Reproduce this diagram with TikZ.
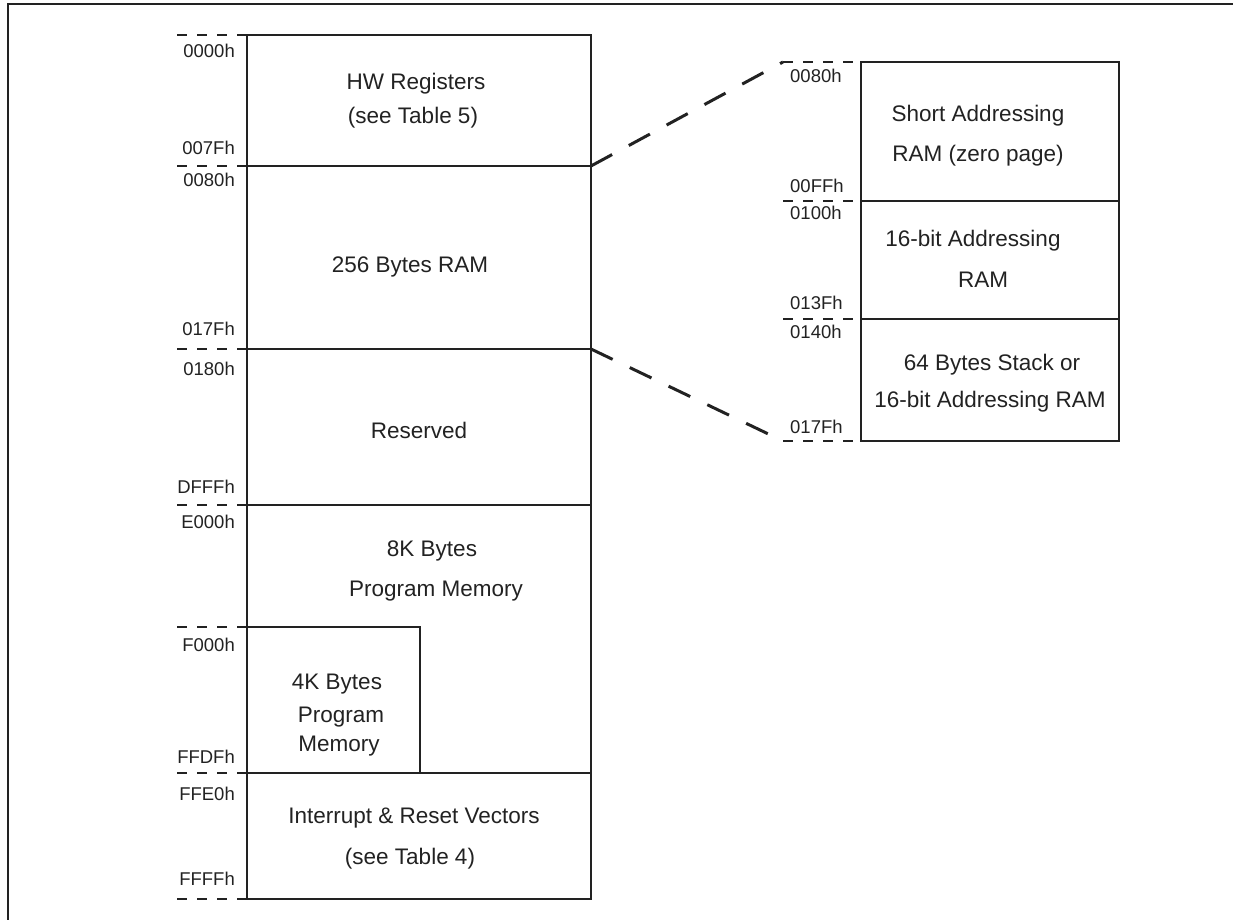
\documentclass[tikz,border=0pt]{standalone}
\usepackage{fontspec}
\setmainfont{Liberation Sans}
\usetikzlibrary{positioning}
\definecolor{lineGray}{HTML}{222222}
\newcommand{\memregion}[4]{
    \node (#1) [draw=lineGray, line width=2.5pt, outer sep=0pt, minimum width=#2, minimum height=#3, #4] {};
}

\begin{document}
\begin{tikzpicture}[x=1pt, y=-1pt, inner sep=0.0pt,
    addr/.style={font=\fontsize{18.5}{20}\selectfont, text=lineGray},
    desc/.style={font=\fontsize{22.5}{26}\selectfont, text=lineGray, anchor=base},
    tick/.style={draw=lineGray, line width=1.8pt, dash pattern=on 10pt off 10pt},
    zoomline/.style={draw=lineGray, line width=3pt, dash pattern=on 24pt off 19pt}]
    \useasboundingbox (0,0) rectangle (1233,920);
    \draw [line width=2pt, draw=lineGray] (8,920) -- (8,4) -- (1233,4);

    % left map
    \memregion{hwreg}{344}{131}{anchor=north west, at={(247,35)}}
    \memregion{ram}{344}{183}{anchor=north west, at={(hwreg.south west)}}
    \memregion{resv}{344}{156}{anchor=north west, at={(ram.south west)}}
    \memregion{prog8}{344}{268}{anchor=north west, at={(resv.south west)}}
    \memregion{vect}{344}{126}{anchor=north west, at={(prog8.south west)}}
    \memregion{prog4}{173}{146}{anchor=south west, at={(vect.north west)}}

    % zoomed RAM
    \memregion{zpage}{258}{139}{anchor=north west, at={(861,62)}}
    \memregion{ram16}{258}{118}{anchor=north west, at={(zpage.south west)}}
    \memregion{stack}{258}{122}{anchor=north west, at={(ram16.south west)}}

    \foreach \r in {hwreg, ram, resv, prog8, prog4, vect} {
        \coordinate [left=70pt of \r.north west] (\r_tick);
        \draw [tick] (\r_tick) -- (\r.north west);
    }
    \coordinate [left=70pt of vect.south west] (vect_end);
    \draw [tick] (vect_end) -- (vect.south west);

    \foreach \r in {zpage, ram16, stack} {
        \coordinate [left=78pt of \r.north west] (\r_tick);
        \draw [tick] (\r_tick) -- (\r.north west);
    }
    \coordinate [left=78pt of stack.south west] (stack_end);
    \draw [tick] (stack_end) -- (stack.south west);

    \draw [zoomline] (ram.north east) -- (zpage_tick);
    \draw [zoomline] (ram.south east) -- (stack_end);

    \foreach \lab/\y in {0000h/58, 007Fh/155, 0080h/186, 017Fh/335, 0180h/375, DFFFh/493, E000h/528, F000h/651, FFDFh/763, FFE0h/800, FFFFh/885}
        \node (L\lab) [addr, anchor=base east] at (235,\y) {\lab};
    \foreach \lab/\y in {0080h/83, 00FFh/193, 0100h/219, 013Fh/309, 0140h/338, 017Fh/433}
        \node (R\lab) [addr, anchor=base west] at (790,\y) {\lab};

    \node (hw1) [desc] at (416,90) {HW Registers};
    \node (hw2) [desc] at (413,124) {(see Table 5)};
    \node (ramtxt) [desc] at (410,272) {256 Bytes RAM};
    \node (resvtxt) [desc] at (419,438) {Reserved};
    \node (p8a) [desc] at (432,556) {8K Bytes};
    \node (p8b) [desc] at (436,596) {Program Memory};
    \node (p4a) [desc] at (337,689) {4K Bytes};
    \node (p4b) [desc] at (341,722) {Program};
    \node (p4c) [desc] at (339,751) {Memory};
    \node (vec1) [desc] at (414,823) {Interrupt \& Reset Vectors};
    \node (vec2) [desc] at (410,864) {(see Table 4)};

    \node (zp1) [desc] at (978,122) {Short Addressing};
    \node (zp2) [desc] at (978,162) {RAM (zero page)};
    \node (r16a) [desc] at (973,246) {16-bit Addressing};
    \node (r16b) [desc] at (983,287) {RAM};
    \node (st1) [desc] at (992,370) {64 Bytes Stack or};
    \node (st2) [desc] at (990,407) {16-bit Addressing RAM};
\end{tikzpicture}
\end{document}
